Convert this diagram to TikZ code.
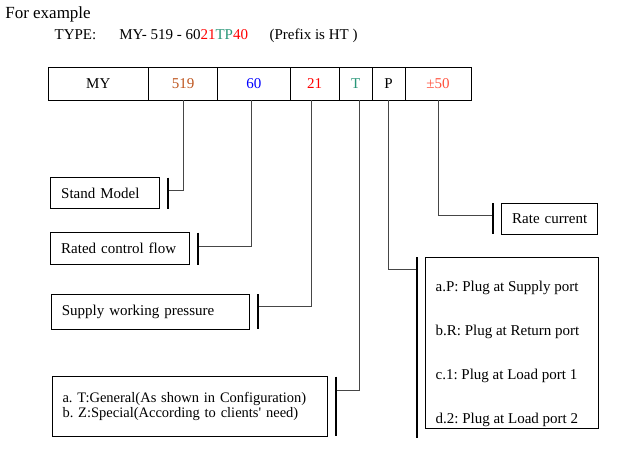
\documentclass[tikz,border=0pt]{standalone}
\usepackage{fontspec}
\setmainfont{Liberation Serif}
\usetikzlibrary{positioning}
\definecolor{codebrown}{RGB}{190,85,30}
\definecolor{codeblue}{RGB}{0,0,255}
\definecolor{codered}{RGB}{255,0,0}
\definecolor{codegreen}{RGB}{40,150,120}
\definecolor{codecoral}{RGB}{255,80,60}
\definecolor{linegray}{RGB}{70,70,70}
\frenchspacing

\begin{document}
\begin{tikzpicture}[x=1pt,y=-1pt,semithick,font=\fontsize{15}{18}\selectfont]
 \tikzstyle{cell node}=[rectangle,draw,line width=0.9pt,minimum height=33pt,inner sep=0,outer sep=0]
 \tikzstyle{info node}=[rectangle,draw,line width=0.8pt,anchor=north west,align=left,inner ysep=0,inner xsep=10.5pt,outer sep=0]
 \tikzstyle{head text}=[anchor=base west,inner sep=0]
 \tikzset{
 	link/.style={draw=linegray,line width=0.8pt},
 	tick bar/.style={draw=black,line width=2pt}
 }

       \useasboundingbox (0,0) rectangle (617,452);

       \node[head text,font=\fontsize{17}{20}\selectfont] (title) at (5,18.3) {For example};
       \node[head text] (type) at (54.3,39) {TYPE:};
       \node[head text] (code) at (119,39) {MY- 519 - 60\textcolor{codered}{21}\textcolor{codegreen}{TP}\textcolor{codered}{40}};
       \node[head text] (prefix) at (269.3,39) {(Prefix is HT )};

       \node[cell node,minimum width=100pt,anchor=north west] (cMY) at (48.3,67.3) {MY};
       \node[cell node,minimum width=69.4pt,text=codebrown] (c519) [right=0pt of cMY] {519};
       \node[cell node,minimum width=72.3pt,text=codeblue] (c60) [right=0pt of c519] {60};
       \node[cell node,minimum width=49.3pt,text=codered] (c21) [right=0pt of c60] {21};
       \node[cell node,minimum width=33pt,text=codegreen] (cT) [right=0pt of c21] {T};
       \node[cell node,minimum width=32.7pt] (cP) [right=0pt of cT] {P};
       \node[cell node,minimum width=66pt,text=codecoral] (c50) [right=0pt of cP] {±50};

       \node[info node,minimum height=31pt,text width=87.3pt] (sm) at (50.7,177.7) {Stand Model};
       \node[info node,minimum height=32pt,text width=118pt] (rcf) at (50.7,232.7) {Rated control flow};
       \node[info node,minimum height=35pt,text width=176.7pt] (swp) at (51.3,294) {Supply working pressure};
       \node[info node,minimum height=59.6pt,text width=254.3pt,font=\fontsize{14.5}{14.7}\selectfont] (tbox) at (52,376.7)
         {a. T:General(As shown in Configuration)\\b. Z:Special(According to clients\textquotesingle{} need)};
       \node[info node,minimum height=31pt,text width=75pt] (rc) at (501.7,203.3) {Rate current};
       \node[info node,minimum height=171pt,minimum width=173.3pt,inner sep=0] (pbox) at (425,257.3) {};
       \node[anchor=north west,align=left,inner sep=0,font=\fontsize{15}{44}\selectfont] (plist) at (435.3,280.8)
         {a.P: Plug at Supply port\\b.R: Plug at Return port\\c.1: Plug at Load port 1\\d.2: Plug at Load port 2};

       \coordinate (smj) at (168,190.7);
       \coordinate (rcfj) at (197.7,246);
       \coordinate (swpj) at (257.7,306.7);
       \coordinate (tj) at (335.7,390.3);
       \coordinate (rcj) at (492.7,215.7);
       \coordinate (pj) at (416.7,269.3);
       \coordinate (pend) at (416.7,437.7);

     \path[link] (c519.south) |- (smj);
     \path[link] ([xshift=-2pt]c60.south) |- (rcfj);
     \path[link] ([xshift=-3.5pt]c21.south) |- (swpj);
     \path[link] ([xshift=4pt]cT.south) |- (tj);
     \path[link] (cP.south) |- (pj);
     \path[link] (c50.south) |- (rcj);

     \path[tick bar] (smj |- sm.north) -- (smj |- sm.south);
     \path[tick bar] (rcfj |- rcf.north) -- (rcfj |- rcf.south);
     \path[tick bar] (swpj |- swp.north) -- (swpj |- swp.south);
     \path[tick bar] (tj |- tbox.north) -- (tj |- tbox.south);
     \path[tick bar] (rcj |- rc.north) -- (rcj |- rc.south);
     \path[tick bar] (pj |- pbox.north) -- (pend);

 \end{tikzpicture}
\end{document}
